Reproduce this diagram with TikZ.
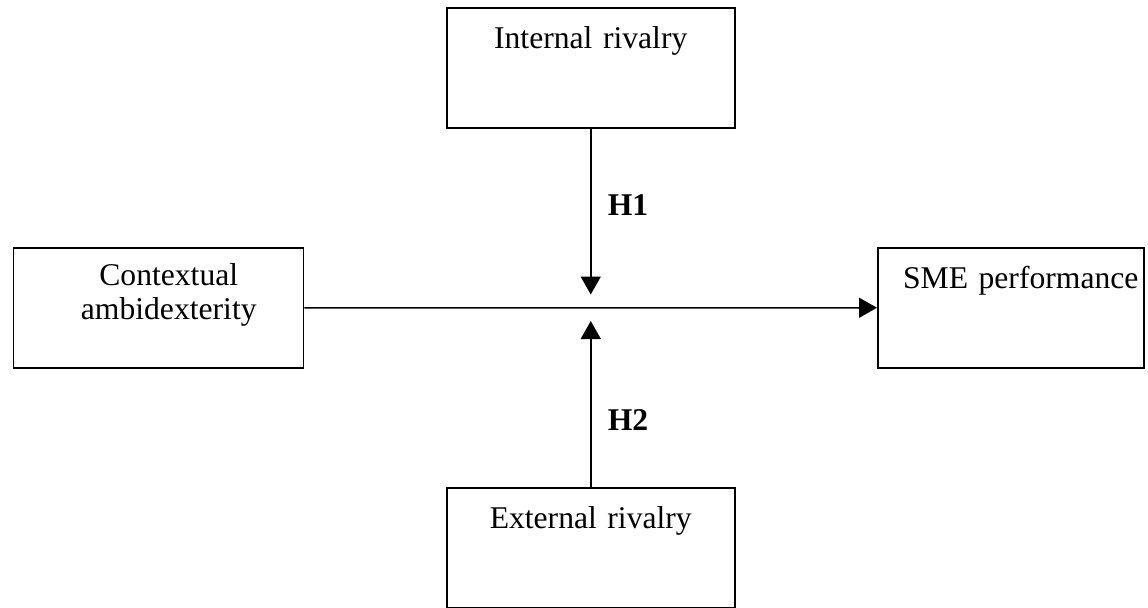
\documentclass[tikz,border=0pt]{standalone}
\usepackage{fontspec}
\setmainfont{Liberation Serif}
\usetikzlibrary{arrows.meta, calc}

\begin{document}
\begin{tikzpicture}[
    box/.style = {
    rectangle,
    draw,
    line width = 0.85pt,
    inner sep = 0pt,
    align = center,
    text height = 0.82cm,
    text depth = 1.58cm,
    font = \fontsize{18}{19}\selectfont
    },
    offset/.style = {execute at begin node = {\leftskip=0.4cm plus 1fil\rightskip=0pt plus 1fil\parfillskip=0pt\relax}},
    hyp/.style = {font = \fontsize{18}{19}\selectfont\bfseries},
    link/.style = {line width = 0.85pt, -{Triangle[length=0.36cm, width=0.4cm]}}
    ]
    \useasboundingbox (0,0) rectangle (22.96,-12.14);
    \node[
    box,
    text width = 5.76cm,
    anchor = north west
    ] (intr) at (8.92,-0.14){Internal rivalry};
    \node[
    box,
    text width = 5.76cm,
    anchor = north west
    ] (extr) at (8.92,-9.74){External rivalry};
    \node[
    box,
    offset,
    text width = 5.80cm,
    text height = 0.76cm,
    text depth = 1.64cm,
    anchor = north west
    ] (ctx) at (0.26,-4.94){Contextual\\ambidexterity};
    \node[
    box,
    offset,
    text width = 5.32cm,
    anchor = north west
    ] (sme) at (17.54,-4.94){SME performance};
    \coordinate (down) at ($(intr.south) + (0,-3.32)$);
    \coordinate (up) at ($(extr.north) + (0,3.32)$);
    \draw[link] (ctx.east) to (sme.west);
    \draw[link] (intr.south) to (down);
    \draw[link] (extr.north) to (up);
    \node[hyp] (h1) at (12.56,-4.1){H1};
    \node[hyp] (h2) at (12.56,-8.4){H2};
  \end{tikzpicture}
\end{document}
